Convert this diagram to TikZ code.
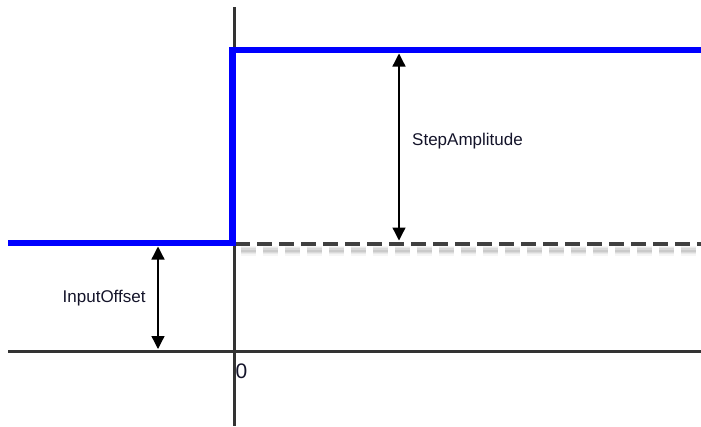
\documentclass[tikz,border=0pt]{standalone}
\usepackage{fontspec}
\setmainfont{Liberation Sans}
\usetikzlibrary{arrows.meta}
\definecolor{axisgray}{HTML}{333333}
\definecolor{dashgray}{HTML}{404040}
\definecolor{labelcol}{HTML}{14142A}
\tikzset{
  axisline/.style={draw=axisgray, line width=3pt},
  signal/.style={draw=blue, line width=6.5pt, line join=miter},
  baseline dash/.style={draw=dashgray, line width=4pt, dash pattern=on 15pt off 7pt},
  shadowline/.style={draw=black!45, dash pattern=on 15pt off 7pt, dash phase=-3pt},
  dimarrow/.style={draw=black, line width=1.3pt, {Triangle[length=13pt,width=13pt]}-{Triangle[length=13pt,width=13pt]}},
  lbl/.style={text=labelcol, font=\fontsize{17}{20}\selectfont, inner sep=0pt}
}
\begin{document}
\begin{tikzpicture}[x=1pt,y=-1pt]
\useasboundingbox (0,0) rectangle (701,426);
% coordinates
\coordinate (yaxisTop) at (234,7);
\coordinate (yaxisBot) at (234,426);
\coordinate (xaxisL) at (8,351);
\coordinate (xaxisR) at (701,351);
\coordinate (sigStart) at (8,243);
\coordinate (sigStep) at (232.5,243);
\coordinate (sigTop) at (232.5,50);
\coordinate (sigEnd) at (701,50);
\coordinate (dashStart) at (235,243.5);
\coordinate (dashEnd) at (701,243.5);
\coordinate (shStart) at (238,250.5);
\coordinate (shEnd) at (701,250.5);
\coordinate (ampTop) at (399,53.5);
\coordinate (ampBot) at (399,240.5);
\coordinate (offTop) at (158,246.5);
\coordinate (offBot) at (158,349);
% blurred shadow of dashed baseline
\draw[shadowline, line width=10pt, opacity=0.08] (shStart) -- (shEnd);
\draw[shadowline, line width=7pt, opacity=0.12] (shStart) -- (shEnd);
\draw[shadowline, line width=4.5pt, opacity=0.16] (shStart) -- (shEnd);
\draw[shadowline, line width=2pt, opacity=0.2] (shStart) -- (shEnd);
% axes
\draw[axisline] (yaxisTop) -- (yaxisBot);
\draw[axisline] (xaxisL) -- (xaxisR);
% dashed baseline
\draw[baseline dash] (dashStart) -- (dashEnd);
% step signal
\draw[signal] (sigStart) -- (sigStep) -- (sigTop) -- (sigEnd);
% dimension arrows
\draw[dimarrow] (ampTop) -- (ampBot);
\draw[dimarrow] (offTop) -- (offBot);
% labels
\node[lbl, anchor=west] (amp) at (412,141) {StepAmplitude};
\node[lbl, anchor=west] (off) at (62.5,298) {InputOffset};
\node[lbl, anchor=west, font=\fontsize{21}{24}\selectfont] (zero) at (235.5,371) {0};
\end{tikzpicture}
\end{document}
